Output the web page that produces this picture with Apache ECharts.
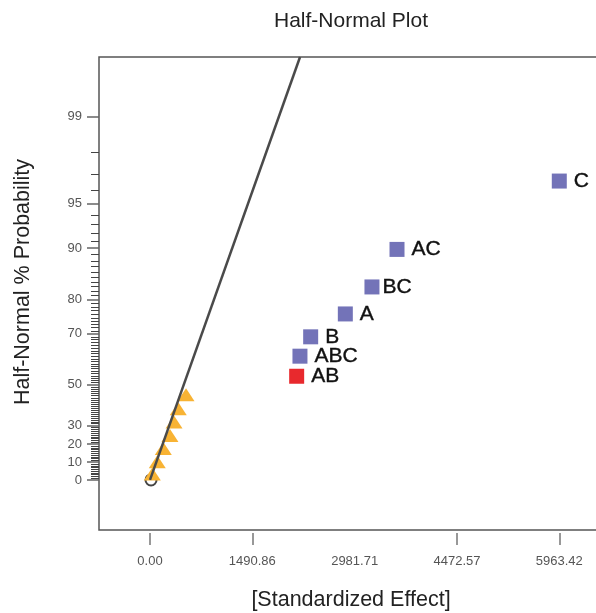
<!DOCTYPE html>
<html>
<head>
<meta charset="utf-8">
<script src="https://cdn.jsdelivr.net/npm/echarts@6/dist/echarts.min.js"></script>
<style>
  html, body { margin: 0; padding: 0; background: #fff; }
  #chart { width: 596px; height: 613px; }
</style>
</head>
<body>
<div id="chart"></div>
<script>
// model effects (squares)
const effectNames = ['AB', 'ABC', 'B', 'A', 'BC', 'AC', 'C']
const effectX = [2137, 2185, 2341, 2846, 3234, 3599, 5963.42]
const effectProb = [53.8, 62.0, 69.0, 76.1, 82.9, 89.8, 96.6]

// error estimates (triangles)
const errorX = [34, 106, 194, 291, 350, 412, 525]
const errorProb = [3.3, 10.3, 17.6, 24.8, 31.9, 38.7, 45.4]

// open circle at origin
const originX = [15]
const originProb = [0]

// fitted line
const fitLineX = [0, 2186]
const fitLineProb = [0, 99.73]

// axes
const yTickLabels = [0, 10, 20, 30, 50, 70, 80, 90, 95, 99]
const xTickLabels = [0, 1490.86, 2981.71, 4472.57, 5963.42]
const xTickMarks = [0, 1490.86, 4472.57, 5963.42]

const font = "'Liberation Sans', Helvetica, Arial, sans-serif"

// inverse normal cdf (Acklam)
function probit(p) {
    const a = [-3.969683028665376e+01, 2.209460984245205e+02, -2.759285104469687e+02, 1.383577518672690e+02, -3.066479806614716e+01, 2.506628277459239e+00]
    const b = [-5.447609879822406e+01, 1.615858368580409e+02, -1.556989798598866e+02, 6.680131188771972e+01, -1.328068155288572e+01]
    const c = [-7.784894002430293e-03, -3.223964580411365e-01, -2.400758277161838e+00, -2.549732539343734e+00, 4.374664141464968e+00, 2.938163982698783e+00]
    const d = [7.784695709041462e-03, 3.224671290700398e-01, 2.445134137142996e+00, 3.754408661907416e+00]
    const pl = 0.02425
    let q, r
    if (p < pl) {
        q = Math.sqrt(-2 * Math.log(p))
        return (((((c[0] * q + c[1]) * q + c[2]) * q + c[3]) * q + c[4]) * q + c[5]) / ((((d[0] * q + d[1]) * q + d[2]) * q + d[3]) * q + 1)
    }
    if (p <= 1 - pl) {
        q = p - 0.5
        r = q * q
        return (((((a[0] * r + a[1]) * r + a[2]) * r + a[3]) * r + a[4]) * r + a[5]) * q / (((((b[0] * r + b[1]) * r + b[2]) * r + b[3]) * r + b[4]) * r + 1)
    }
    q = Math.sqrt(-2 * Math.log(1 - p))
    return -(((((c[0] * q + c[1]) * q + c[2]) * q + c[3]) * q + c[4]) * q + c[5]) / ((((d[0] * q + d[1]) * q + d[2]) * q + d[3]) * q + 1)
}
// half-normal % probability -> axis units
const hn = pct => probit(0.5 + pct / 200)

const minorTicks = []
for (let i = 1; i < 99; i++) {
    if (yTickLabels.indexOf(i) < 0) minorTicks.push(hn(i))
}

const yMin = -0.355
const yMax = 3.0
const xMin = -743
const xMax = 6542

const chart = echarts.init(document.getElementById('chart'))
chart.setOption({
    animation: false,
    textStyle: { fontFamily: font },
    grid: {
        left: 99,
        top: 57,
        width: 500,
        height: 473,
        show: true,
        borderColor: '#555',
        borderWidth: 1.5,
        containLabel: false,
        outerBoundsMode: 'none'
    },
    graphic: [
        {
            type: 'text', x: 351, y: 21,
            style: { text: 'Half-Normal Plot', fontSize: 21, fontFamily: font, fill: '#222', align: 'center', verticalAlign: 'middle' }
        },
        {
            type: 'text', x: 351, y: 600,
            style: { text: '[Standardized Effect]', fontSize: 21.5, fontFamily: font, fill: '#222', align: 'center', verticalAlign: 'middle' }
        },
        {
            type: 'text', x: 23, y: 282, rotation: Math.PI / 2,
            style: { text: 'Half-Normal % Probability', fontSize: 21.5, fontFamily: font, fill: '#222', align: 'center', verticalAlign: 'middle' }
        }
    ],
    xAxis: {
        type: 'value',
        min: xMin,
        max: xMax,
        offset: 3,
        splitLine: { show: false },
        axisLine: { show: false, onZero: false },
        axisTick: {
            show: true,
            length: 12,
            customValues: xTickMarks,
            lineStyle: { color: '#777', width: 1.5 }
        },
        axisLabel: {
            customValues: xTickLabels,
            margin: 22,
            fontSize: 13,
            color: '#555',
            formatter: v => v.toFixed(2)
        }
    },
    yAxis: [
        {
            type: 'value',
            position: 'left',
            min: yMin,
            max: yMax,
            splitLine: { show: false },
            axisLine: { show: false, onZero: false },
            axisTick: {
                show: true,
                length: 12,
                customValues: yTickLabels.map(hn),
                lineStyle: { color: '#666', width: 1.5 }
            },
            axisLabel: {
                customValues: yTickLabels.map(hn),
                margin: 17,
                fontSize: 13,
                color: '#555',
                formatter: v => {
                    let best = yTickLabels[0]
                    yTickLabels.forEach(t => {
                        if (Math.abs(hn(t) - v) < Math.abs(hn(best) - v)) best = t
                    })
                    return String(best)
                }
            }
        },
        {
            type: 'value',
            position: 'left',
            min: yMin,
            max: yMax,
            splitLine: { show: false },
            axisLine: { show: false, onZero: false },
            axisLabel: { show: false },
            axisTick: {
                show: true,
                length: 8,
                customValues: minorTicks,
                lineStyle: { color: '#444', width: 1 }
            }
        }
    ],
    series: [
        {
            type: 'line',
            data: fitLineX.map((x, i) => [x, hn(fitLineProb[i])]),
            showSymbol: false,
            symbol: 'none',
            lineStyle: { color: '#4a4a4a', width: 2.5 },
            silent: true
        },
        {
            type: 'scatter',
            data: originX.map((x, i) => [x, hn(originProb[i])]),
            symbol: 'emptyCircle',
            symbolSize: 11,
            itemStyle: { color: '#444', borderColor: '#444', borderWidth: 2, opacity: 1 }
        },
        {
            type: 'scatter',
            data: errorX.map((x, i) => [x, hn(errorProb[i])]),
            symbol: 'triangle',
            symbolSize: [17, 13],
            itemStyle: { color: '#F8B334', opacity: 1 }
        },
        {
            type: 'scatter',
            data: effectNames.map((n, i) => ({
                name: n,
                value: [effectX[i], hn(effectProb[i])],
                itemStyle: { color: n === 'AB' ? '#E8292D' : '#7373B8', opacity: 1 },
                label: { distance: n === 'BC' ? 3 : 7 }
            })),
            symbol: 'rect',
            symbolSize: 15,
            label: {
                show: true,
                position: 'right',
                formatter: '{b}',
                fontSize: 21,
                color: '#111',
                fontFamily: font,
                textBorderWidth: 0.4,
                textBorderColor: '#111'
            }
        }
    ]
})
</script>
</body>
</html>
